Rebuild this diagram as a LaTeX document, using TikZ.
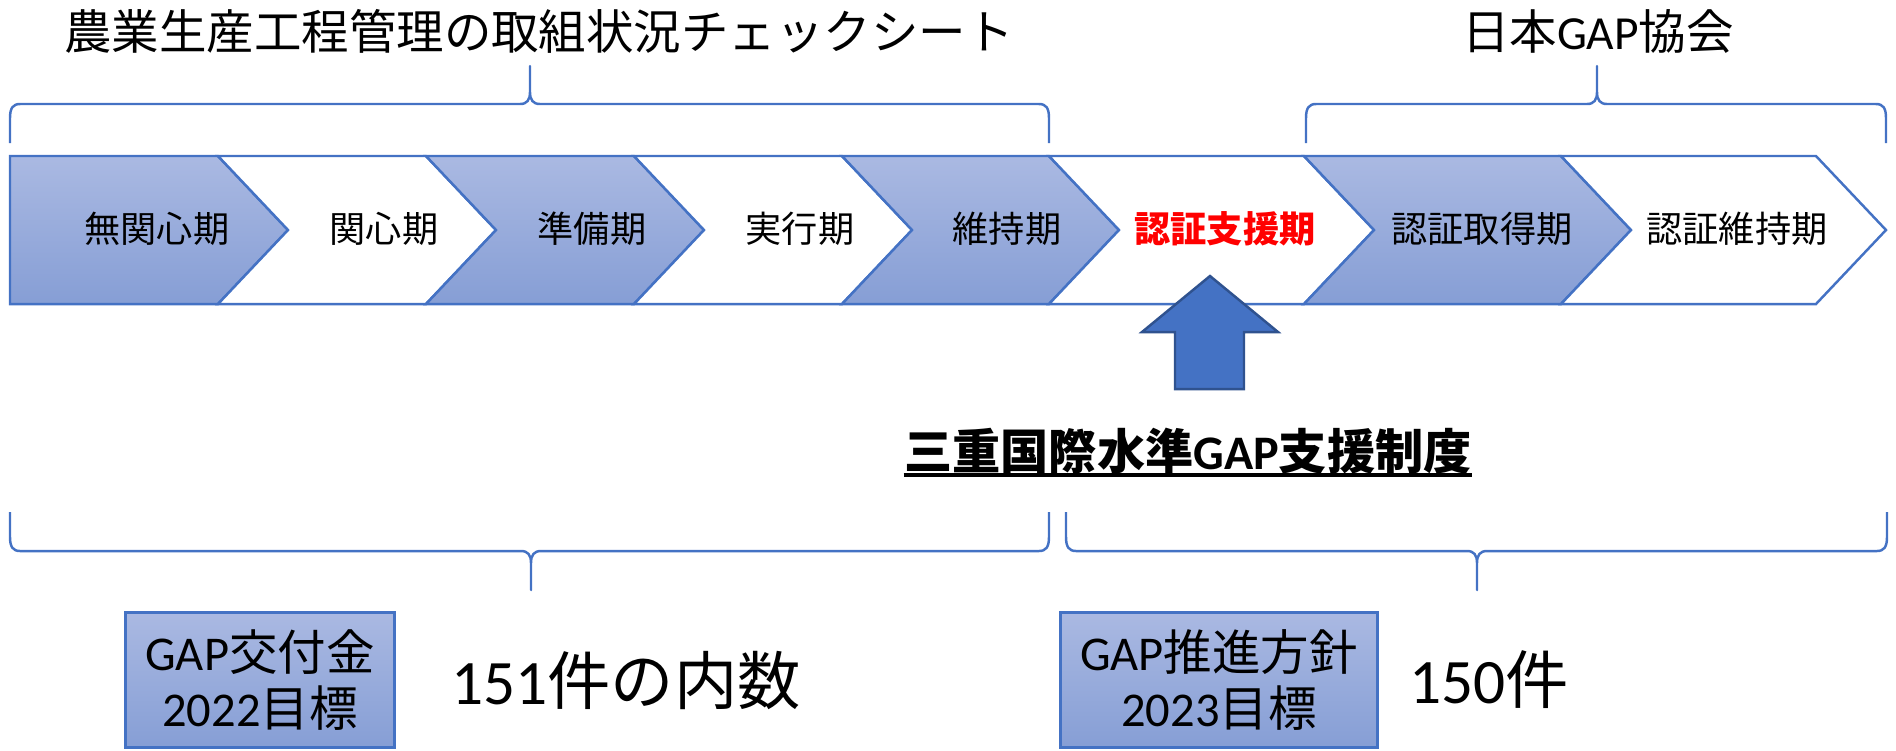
\documentclass[tikz,border=0pt]{standalone}
\usepackage{fontspec}
\setmainfont{Noto Sans CJK JP}
\newfontfamily\lat{Carlito}
\definecolor{edge}{RGB}{68,114,196}
\definecolor{lightblue}{RGB}{170,185,226}
\definecolor{darkblue}{RGB}{134,158,213}
\definecolor{arrowfill}{RGB}{68,114,196}
\definecolor{arrowedge}{RGB}{47,82,143}
\tikzset{
  shaded/.style={draw=edge, line width=0.7pt, top color=lightblue, bottom color=darkblue},
  plain/.style={draw=edge, line width=0.7pt, fill=white},
  curly/.style={draw=edge, line width=0.7pt, line join=round},
  phase/.style={inner sep=0pt, font=\fontsize{10.3}{12}\selectfont},
  heading/.style={inner sep=0pt, font=\fontsize{13.5}{16}\selectfont},
  target/.style={shaded, inner sep=0pt, minimum height=1.35cm, align=center, font=\fontsize{13.8}{15.8}\selectfont},
  count/.style={inner sep=0pt, font=\fontsize{18}{20}\selectfont},
}

\begin{document}
\begin{tikzpicture}[x=0.01cm, y=-0.01cm]
        \useasboundingbox (0,0) rectangle (1896,750);
        % headings
        \node[heading] (t1) at (539,31) {農業生産工程管理の取組状況チェックシート};
        \node[heading] (t2) at (1598,31) {日本{\lat GAP}協会};
        % upper braces
        \draw[curly] (10,143) -- (10,118) .. controls (10,108) and (13,104) .. (20,104) -- (520,104) .. controls (527,104) and (530,100) .. (530,92) -- (530,66) -- (530,92) .. controls (530,100) and (533,104) .. (540,104) -- (1039,104) .. controls (1046,104) and (1049,108) .. (1049,118) -- (1049,143);
        \draw[curly] (1306,143) -- (1306,118) .. controls (1306,108) and (1309,104) .. (1316,104) -- (1587,104) .. controls (1594,104) and (1597,100) .. (1597,92) -- (1597,66) -- (1597,92) .. controls (1597,100) and (1600,104) .. (1607,104) -- (1876,104) .. controls (1883,104) and (1886,108) .. (1886,118) -- (1886,143);
        % chevrons
        \draw[shaded] (10,156) -- (218,156) -- (288,230) -- (218,304) -- (10,304) -- cycle;
        \draw[plain] (218,156) -- (426,156) -- (496,230) -- (426,304) -- (218,304) -- (288,230) -- cycle;
        \draw[shaded] (426,156) -- (634,156) -- (704,230) -- (634,304) -- (426,304) -- (496,230) -- cycle;
        \draw[plain] (634,156) -- (842,156) -- (912,230) -- (842,304) -- (634,304) -- (704,230) -- cycle;
        \draw[shaded] (842,156) -- (1049,156) -- (1119,230) -- (1049,304) -- (842,304) -- (912,230) -- cycle;
        \draw[plain] (1049,156) -- (1304,156) -- (1374,230) -- (1304,304) -- (1049,304) -- (1119,230) -- cycle;
        \draw[shaded] (1304,156) -- (1561,156) -- (1631,230) -- (1561,304) -- (1304,304) -- (1374,230) -- cycle;
        \draw[plain] (1561,156) -- (1816,156) -- (1886,230) -- (1816,304) -- (1561,304) -- (1631,230) -- cycle;
        \node[phase] (c1) at (157,229) {無関心期};
        \node[phase] (c2) at (384,229) {関心期};
        \node[phase] (c3) at (592,229) {準備期};
        \node[phase] (c4) at (800,229) {実行期};
        \node[phase] (c5) at (1007,229) {維持期};
        \node[phase, text=red, font=\fontsize{10.3}{12}\selectfont\bfseries] (c6) at (1225,229) {認証支援期};
        \node[phase] (c7) at (1482,229) {認証取得期};
        \node[phase] (c8) at (1737,229) {認証維持期};
        % support arrow
        \draw[fill=arrowfill, draw=arrowedge, line width=0.7pt] (1210,276) -- (1278,332) -- (1244,332) -- (1244,389) -- (1175,389) -- (1175,332) -- (1142,332) -- cycle;
        \node[inner sep=0pt, font=\fontsize{13.7}{16}\selectfont\bfseries] (seido) at (1188,451) {三重国際水準{\lat\bfseries GAP}支援制度};
        \draw[line width=0.9pt] ([yshift=-1.6pt]seido.base west) -- ([yshift=-1.6pt]seido.base east);
        % lower braces
        \draw[curly] (10,512) -- (10,537) .. controls (10,547) and (13,551) .. (20,551) -- (521,551) .. controls (528,551) and (531,555) .. (531,563) -- (531,590) -- (531,563) .. controls (531,555) and (534,551) .. (541,551) -- (1039,551) .. controls (1046,551) and (1049,547) .. (1049,537) -- (1049,512);
        \draw[curly] (1066,512) -- (1066,537) .. controls (1066,547) and (1069,551) .. (1076,551) -- (1467,551) .. controls (1474,551) and (1477,555) .. (1477,563) -- (1477,590) -- (1477,563) .. controls (1477,555) and (1480,551) .. (1487,551) -- (1877,551) .. controls (1884,551) and (1887,547) .. (1887,537) -- (1887,512);
        % targets
        \node[target, minimum width=2.69cm] (k1) at (260,680) {{\lat GAP}交付金\\{\lat 2022}目標};
        \node[count] (n1) at (626,680) {{\lat 151}件の内数};
        \node[target, minimum width=3.17cm] (k2) at (1219,680) {{\lat GAP}推進方針\\{\lat 2023}目標};
        \node[count] (n2) at (1489,680) {{\lat 150}件};
    \end{tikzpicture}
\end{document}
